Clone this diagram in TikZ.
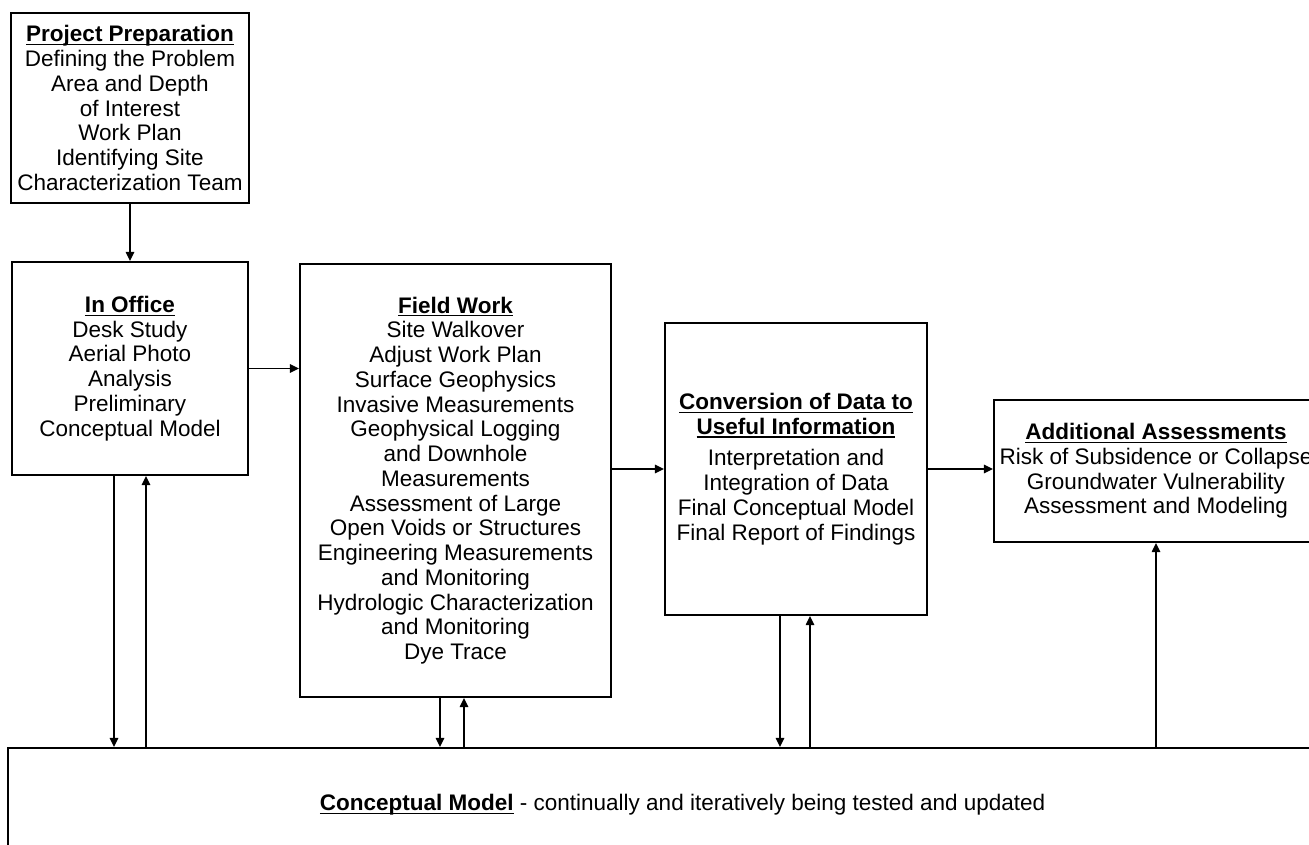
\documentclass[tikz,border=0pt]{standalone}
\usepackage{fontspec}
\setmainfont{Liberation Sans}
\usetikzlibrary{arrows.meta,calc}

\newlength\px
\setlength\px{0.025cm}
\newcommand\boxfont{\fontsize{16pt}{17.6pt}\selectfont}
\newsavebox\titlebox
\newcommand\boxtitle[1]{\sbox\titlebox{\textbf{#1}}%
  \rlap{\rule[-2.4pt]{\wd\titlebox}{0.8pt}}\usebox\titlebox}

\tikzset{
  stage/.style={draw,line width=1.35pt,inner sep=0pt,align=center,font=\boxfont},
  flow/.style={->,line width=1pt}
}

\begin{document}
\begin{tikzpicture}[x=\px,y=-\px,>={Triangle[length=6.5pt,width=6pt]}]
  \useasboundingbox (0,0) rectangle (1309,845);
  \clip (0,0) rectangle (1309,845);

  \node[stage,minimum width=238\px,minimum height=190\px] (prep) at (130,108)
    {\boxtitle{Project Preparation}\\Defining the Problem\\Area and Depth\\of Interest\\Work Plan\\Identifying Site\\Characterization Team};
  \node[stage,minimum width=236\px,minimum height=213\px] (office) at (130,368.5)
    {\boxtitle{In Office}\\Desk Study\\Aerial Photo\\Analysis\\Preliminary\\Conceptual Model};
  \node[stage,minimum width=311\px,minimum height=433\px] (field) at (455.5,480.5)
    {\boxtitle{Field Work}\\Site Walkover\\Adjust Work Plan\\Surface Geophysics\\Invasive Measurements\\Geophysical Logging\\and Downhole\\Measurements\\Assessment of Large\\Open Voids or Structures\\Engineering Measurements\\and Monitoring\\Hydrologic Characterization\\and Monitoring\\Dye Trace};
  \node[stage,minimum width=262\px,minimum height=292\px] (conv) at (796,469)
    {\boxtitle{Conversion of Data to}\\\boxtitle{Useful Information}\\[5pt]Interpretation and\\Integration of Data\\Final Conceptual Model\\Final Report of Findings};
  \node[stage,minimum width=324\px,minimum height=142\px] (add) at (1156,471)
    {\boxtitle{Additional Assessments}\\Risk of Subsidence or Collapse\\Groundwater Vulnerability\\Assessment and Modeling};
  \node[stage,minimum width=1392\px,minimum height=152\px] (model) at (704,824) {};
  \node[anchor=west,font=\boxfont] (modeltext) at (315,805)
    {\boxtitle{Conceptual Model} - continually and iteratively being tested and updated};

  \draw[flow] (prep.south) -- (office.north);
  \draw[flow] (office.east) -- (field.west |- office.east);
  \draw[flow] (field.east |- conv.west) -- (conv.west);
  \draw[flow] (conv.east) -- (add.west |- conv.east);

  \coordinate (od) at ($(office.south)+(-16,0)$);
  \coordinate (ou) at ($(office.south)+(16,0)$);
  \coordinate (fd) at ($(field.south)+(-15.5,0)$);
  \coordinate (fu) at ($(field.south)+(8.5,0)$);
  \coordinate (cd) at ($(conv.south)+(-16,0)$);
  \coordinate (cu) at ($(conv.south)+(14,0)$);
  \draw[flow] (od) -- (od |- model.north);
  \draw[flow] (ou |- model.north) -- (ou);
  \draw[flow] (fd) -- (fd |- model.north);
  \draw[flow] (fu |- model.north) -- (fu);
  \draw[flow] (cd) -- (cd |- model.north);
  \draw[flow] (cu |- model.north) -- (cu);
  \draw[flow] (add.south |- model.north) -- (add.south);
\end{tikzpicture}
\end{document}
